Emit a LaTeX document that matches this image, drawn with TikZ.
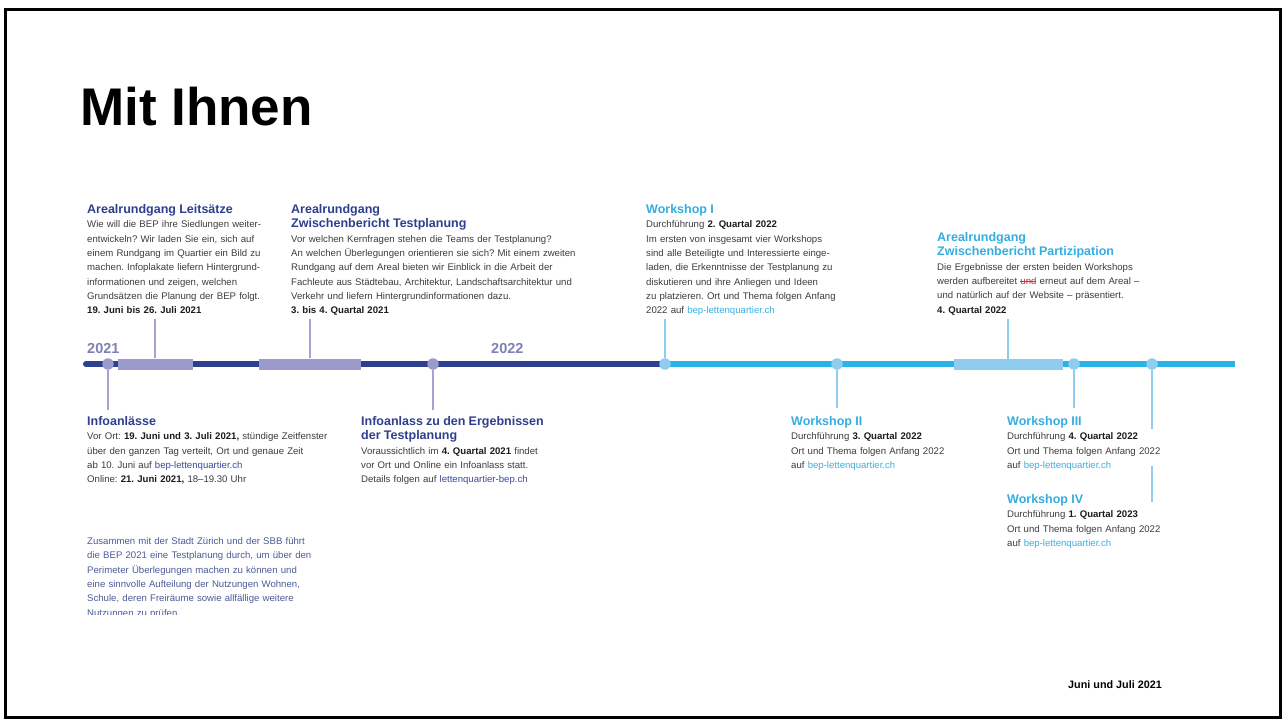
\documentclass[tikz,border=0pt]{standalone}
\usepackage{fontspec}
\setmainfont{Liberation Sans}
\frenchspacing
\definecolor{navy}{HTML}{2E3F8E}
\definecolor{cyanline}{HTML}{2BB3E6}
\definecolor{purplebar}{HTML}{9A9ACB}
\definecolor{purpleconn}{HTML}{A4A4D2}
\definecolor{lightblue}{HTML}{8FCDF0}
\definecolor{cyanhead}{HTML}{35ADE0}
\definecolor{cyanlink}{HTML}{3AB0E2}
\definecolor{navylink}{HTML}{3A4A9E}
\definecolor{bodygray}{HTML}{3C3C3C}
\definecolor{darktext}{HTML}{1C1C1C}
\definecolor{yearc}{HTML}{7E80B8}
\definecolor{parablue}{HTML}{4B5B97}
\definecolor{strkred}{HTML}{C8323A}
\newcommand{\hdn}[1]{{\fontsize{12.5}{14.3}\selectfont\bfseries\color{navy}#1}}
\newcommand{\hdc}[1]{{\fontsize{12.5}{14.3}\selectfont\bfseries\color{cyanhead}#1}}
\newcommand{\bd}[1]{{\bfseries\color{darktext}#1}}
\newcommand{\lnk}[1]{\textcolor{cyanlink}{#1}}
\newcommand{\lnkn}[1]{\textcolor{navylink}{#1}}
\newcommand{\strk}[1]{\sbox0{#1}\rlap{\textcolor{strkred}{#1}}\textcolor{strkred}{\rule[0.28em]{\wd0}{0.8pt}}}
\tikzset{
  txt/.style={anchor=base west, inner sep=0pt, align=left, text width=340pt,
    font=\fontsize{9.6}{14.3}\selectfont\frenchspacing, text=bodygray},
  pdot/.style={circle, fill=purplebar, minimum size=11.5pt, inner sep=0pt},
  ldot/.style={circle, fill=lightblue, minimum size=11.5pt, inner sep=0pt},
  pbar/.style={rectangle, fill=purplebar, minimum height=11pt, inner sep=0pt},
  lbar/.style={rectangle, fill=lightblue, minimum height=11pt, inner sep=0pt},
  pconn/.style={draw=purpleconn, line width=1.2pt},
  lconn/.style={draw=lightblue, line width=1.2pt},
  yearlbl/.style={anchor=base west, inner sep=0pt, font=\fontsize{14.5}{16}\selectfont\bfseries, text=yearc}
}
\begin{document}
\begin{tikzpicture}[x=1pt,y=-1pt]
\useasboundingbox (0,0) rectangle (1285,720);
\fill[white] (0,0) rectangle (1285,720);
\draw[line width=2.5pt] (5.5,9.5) rectangle (1280.5,717.5);

% title
\node[anchor=base west, inner sep=0pt, font=\fontsize{53}{60}\selectfont\bfseries] (title) at (80,125) {Mit Ihnen};

% timeline
\coordinate (t0) at (86,364);
\coordinate (tmid) at (665,364);
\coordinate (t1) at (1235,364);
\draw[navy, line width=6pt, line cap=round] (t0) -- (tmid);
\draw[cyanline, line width=6pt] (tmid) -- (t1);

\node[pbar, minimum width=75pt] (b1) at (155.5,364) {};
\node[pbar, minimum width=102pt] (b2) at (310,364) {};
\node[lbar, minimum width=109pt] (b3) at (1008,364) {};

\node[pdot] (d1) at (108,364) {};
\node[pdot] (d2) at (433,364) {};
\node[ldot] (d3) at (665,364) {};
\node[ldot] (d4) at (837,364) {};
\node[ldot] (d5) at (1074,364) {};
\node[ldot] (d6) at (1152,364) {};

\node[yearlbl] (y21) at (87,353) {2021};
\node[yearlbl] (y22) at (491,353) {2022};

% connectors above
\coordinate (cA) at (155,319);
\coordinate (cB) at (310,319);
\coordinate (cC) at (665,319);
\coordinate (cD) at (1008,319);
\draw[pconn] (cA) -- (cA |- b1.north);
\draw[pconn] (cB) -- (cB |- b2.north);
\draw[lconn] (cC) -- (d3.north);
\draw[lconn] (cD) -- ([yshift=-3pt]cD |- b3.north);

% connectors below
\coordinate (cE) at (108,410);
\coordinate (cF) at (433,410);
\coordinate (cG) at (837,408);
\coordinate (cH) at (1074,408);
\coordinate (cI1) at (1152,429);
\coordinate (cI2) at (1152,466);
\coordinate (cI3) at (1152,502);
\draw[pconn] (d1.south) -- (cE);
\draw[pconn] (d2.south) -- (cF);
\draw[lconn] (d4.south) -- (cG);
\draw[lconn] (d5.south) -- (cH);
\draw[lconn] (d6.south) -- (cI1);
\draw[lconn] (cI2) -- (cI3);

% text blocks above
\node[txt] (tA) at (87,213.5) {\hdn{Arealrundgang Leitsätze}\\
Wie will die BEP ihre Siedlungen weiter-\\
entwickeln? Wir laden Sie ein, sich auf\\
einem Rundgang im Quartier ein Bild zu\\
machen. Infoplakate liefern Hintergrund-\\
informationen und zeigen, welchen\\
Grundsätzen die Planung der BEP folgt.\\
\bd{19. Juni bis 26. Juli 2021}};

\node[txt] (tB) at (291,213.5) {\hdn{Arealrundgang}\\
\hdn{Zwischenbericht Testplanung}\\
Vor welchen Kernfragen stehen die Teams der Testplanung?\\
An welchen Überlegungen orientieren sie sich? Mit einem zweiten\\
Rundgang auf dem Areal bieten wir Einblick in die Arbeit der\\
Fachleute aus Städtebau, Architektur, Landschaftsarchitektur und\\
Verkehr und liefern Hintergrundinformationen dazu.\\
\bd{3. bis 4. Quartal 2021}};

\node[txt] (tC) at (646,213.5) {\hdc{Workshop I}\\
Durchführung \bd{2. Quartal 2022}\\
Im ersten von insgesamt vier Workshops\\
sind alle Beteiligte und Interessierte einge-\\
laden, die Erkenntnisse der Testplanung zu\\
diskutieren und ihre Anliegen und Ideen\\
zu platzieren. Ort und Thema folgen Anfang\\
2022 auf \lnk{bep-lettenquartier.ch}};

\node[txt, text width=300pt] (tD) at (937,241.5) {\hdc{Arealrundgang}\\
\hdc{Zwischenbericht Partizipation}\\
Die Ergebnisse der ersten beiden Workshops\\
werden aufbereitet \strk{und} erneut auf dem Areal –\\
und natürlich auf der Website – präsentiert.\\
\bd{4. Quartal 2022}};

% text blocks below
\node[txt] (tE) at (87,425.5) {\hdn{Infoanlässe}\\
Vor Ort: \bd{19. Juni und 3. Juli 2021,} stündige Zeitfenster\\
über den ganzen Tag verteilt, Ort und genaue Zeit\\
ab 10. Juni auf \lnkn{bep-lettenquartier.ch}\\
Online: \bd{21. Juni 2021,} 18–19.30 Uhr};

\node[txt] (tF) at (361,425.5) {\hdn{Infoanlass zu den Ergebnissen}\\
\hdn{der Testplanung}\\
Voraussichtlich im \bd{4. Quartal 2021} findet\\
vor Ort und Online ein Infoanlass statt.\\
Details folgen auf \lnkn{lettenquartier-bep.ch}};

\node[txt, text width=200pt] (tG) at (791,425.5) {\hdc{Workshop II}\\
Durchführung \bd{3. Quartal 2022}\\
Ort und Thema folgen Anfang 2022\\
auf \lnk{bep-lettenquartier.ch}};

\node[txt, text width=200pt] (tH) at (1007,425.5) {\hdc{Workshop III}\\
Durchführung \bd{4. Quartal 2022}\\
Ort und Thema folgen Anfang 2022\\
auf \lnk{bep-lettenquartier.ch}};

\node[txt, text width=200pt] (tI) at (1007,503.5) {\hdc{Workshop IV}\\
Durchführung \bd{1. Quartal 2023}\\
Ort und Thema folgen Anfang 2022\\
auf \lnk{bep-lettenquartier.ch}};

% bottom paragraph (clipped)
\begin{scope}
\clip (80,528) rectangle (340,614);
\node[txt, text=parablue] (tJ) at (87,544.5) {Zusammen mit der Stadt Zürich und der SBB führt\\
die BEP 2021 eine Testplanung durch, um über den\\
Perimeter Überlegungen machen zu können und\\
eine sinnvolle Aufteilung der Nutzungen Wohnen,\\
Schule, deren Freiräume sowie allfällige weitere\\
Nutzungen zu prüfen.};
\end{scope}

% footer
\node[anchor=base west, inner sep=0pt, font=\fontsize{10.8}{12}\selectfont\bfseries] (foot) at (1068,688) {Juni und Juli 2021};
\end{tikzpicture}
\end{document}
